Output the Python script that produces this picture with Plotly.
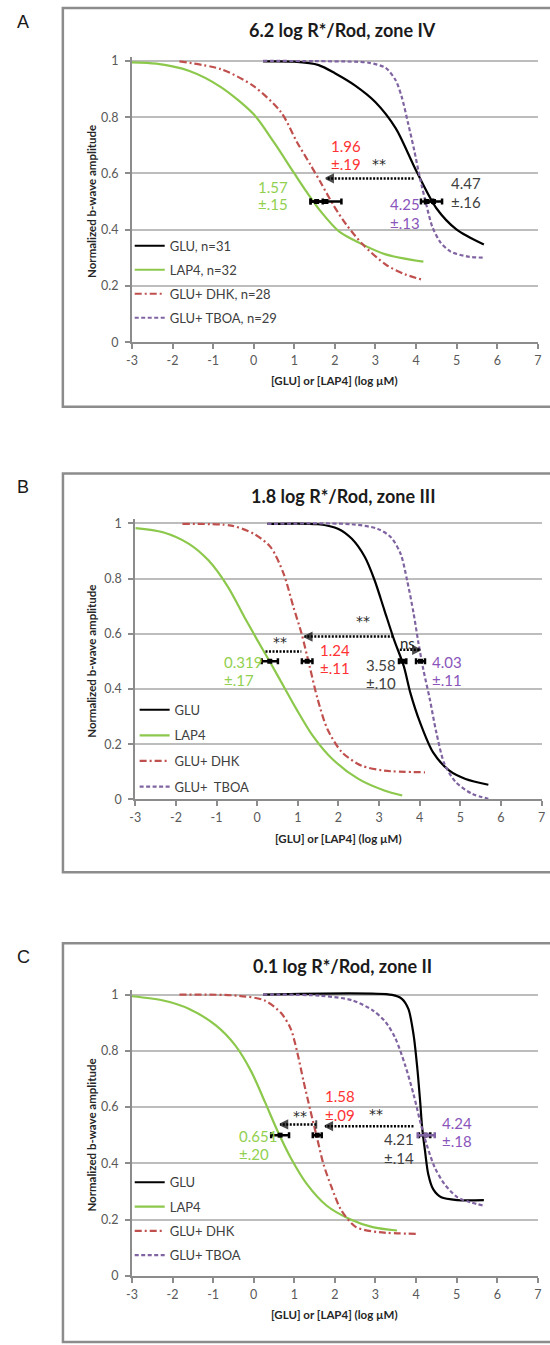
import plotly.graph_objects as go

W, H = 550, 1345
FONT = "Lato"

# ---------------- data ----------------
# Panel A: 6.2 log R*/Rod, zone IV
A_GLU_x = [0.23, 1.0, 1.6, 2.0, 2.5, 3.0, 3.5, 4.0, 4.5, 5.0, 5.67]
A_GLU_y = [0.998, 0.997, 0.985, 0.956, 0.912, 0.853, 0.76, 0.61, 0.476, 0.40, 0.347]
A_LAP4_x = [-3, -2.4, -1.6, -0.8, 0.0, 0.5, 1.0, 1.3, 1.65, 2.1, 2.6, 3.25, 4.18]
A_LAP4_y = [0.995, 0.99, 0.965, 0.906, 0.81, 0.71, 0.60, 0.535, 0.465, 0.394, 0.353, 0.312, 0.286]
A_DHK_x = [-1.83, -0.8, 0.0, 0.67, 1.07, 1.4, 1.64, 1.96, 2.28, 2.69, 3.25, 3.73, 4.18]
A_DHK_y = [0.998, 0.97, 0.91, 0.818, 0.71, 0.63, 0.57, 0.488, 0.418, 0.347, 0.276, 0.241, 0.221]
A_TBOA_x = [0.23, 1.5, 2.5, 2.85, 3.25, 3.5, 3.65, 3.8, 3.95, 4.1, 4.25, 4.4, 4.6, 4.85, 5.25, 5.67]
A_TBOA_y = [1.0, 0.999, 0.997, 0.993, 0.975, 0.93, 0.87, 0.78, 0.685, 0.58, 0.49, 0.41, 0.355, 0.322, 0.305, 0.30]
A_names = ["GLU, n=31", "LAP4, n=32", "GLU+ DHK, n=28", "GLU+ TBOA, n=29"]
A_ec_x = [1.55, 1.78, 4.27, 4.43]
A_ec_err = [0.15, 0.38, 0.15, 0.21]
A_ec_y = [0.5, 0.5, 0.5, 0.5]
A_arrow_x0 = [3.94]
A_arrow_x1 = [1.78]
A_arrow_y = [0.582]
A_lab_text = ["1.96", "±.19", "1.57", "±.15", "4.47", "±.16", "4.25", "±.13"]
A_lab_x = [1.86, 1.86, 0.065, 0.065, 4.82, 4.82, 3.315, 3.315]
A_lab_y = [0.698, 0.635, 0.553, 0.492, 0.567, 0.50, 0.49, 0.424]
A_sig_text = ["**"]
A_sig_x = [3.09]
A_sig_y = [0.635]

# Panel B: 1.8 log R*/Rod, zone III
B_GLU_x = [0.25, 1.5, 2.0, 2.33, 2.65, 2.89, 3.13, 3.37, 3.61, 3.77, 4.01, 4.33, 4.73, 5.13, 5.69]
B_GLU_y = [0.998, 0.997, 0.98, 0.944, 0.878, 0.794, 0.686, 0.578, 0.482, 0.386, 0.278, 0.17, 0.104, 0.074, 0.053]
B_LAP4_x = [-3, -2.32, -1.68, -1.2, -0.72, -0.32, 0.0, 0.33, 0.65, 0.97, 1.37, 1.85, 2.49, 3.13, 3.57]
B_LAP4_y = [0.983, 0.968, 0.926, 0.866, 0.77, 0.662, 0.578, 0.494, 0.41, 0.326, 0.23, 0.146, 0.074, 0.032, 0.014]
B_DHK_x = [-1.84, -0.64, -0.08, 0.33, 0.65, 0.89, 1.09, 1.29, 1.49, 1.73, 2.09, 2.57, 3.13, 4.13]
B_DHK_y = [0.998, 0.992, 0.962, 0.914, 0.818, 0.698, 0.602, 0.482, 0.362, 0.254, 0.17, 0.122, 0.104, 0.098]
B_TBOA_x = [0.25, 2.33, 2.97, 3.29, 3.53, 3.69, 3.85, 3.97, 4.09, 4.25, 4.41, 4.61, 4.89, 5.29, 5.69]
B_TBOA_y = [0.998, 0.997, 0.98, 0.95, 0.89, 0.794, 0.674, 0.566, 0.47, 0.362, 0.242, 0.128, 0.062, 0.02, 0.002]
B_names = ["GLU", "LAP4", "GLU+ DHK", "GLU+\u00a0 TBOA"]
B_ec_x = [0.31, 1.23, 3.58, 4.02]
B_ec_err = [0.20, 0.13, 0.09, 0.11]
B_ec_y = [0.5, 0.5, 0.5, 0.5]
B_arrow_x0 = [3.35, 0.205, 3.51]
B_arrow_x1 = [1.166, 1.087, 4.01]
B_arrow_y = [0.59, 0.536, 0.542]
B_lab_text = ["0.319", "±.17", "1.24", "±.11", "3.58", "±.10", "4.03", "±.11"]
B_lab_x = [-0.877, -0.877, 1.50, 1.50, 2.625, 2.625, 4.25, 4.25]
B_lab_y = [0.498, 0.434, 0.542, 0.476, 0.488, 0.422, 0.498, 0.434]
B_sig_text = ["**", "**", "ns"]
B_sig_x = [2.61, 0.566, 3.69]
B_sig_y = [0.645, 0.572, 0.566]

# Panel C: 0.1 log R*/Rod, zone II
C_GLU_x = [0.23, 3.41, 3.65, 3.81, 3.94, 4.03, 4.10, 4.15, 4.22, 4.30, 4.42, 4.62, 5.02, 5.67]
C_GLU_y = [1.0, 0.999, 0.985, 0.949, 0.855, 0.738, 0.62, 0.526, 0.444, 0.361, 0.308, 0.279, 0.269, 0.269]
C_LAP4_x = [-3, -2.23, -1.59, -0.94, -0.46, -0.06, 0.27, 0.59, 0.91, 1.31, 1.80, 2.36, 2.93, 3.53]
C_LAP4_y = [0.994, 0.979, 0.949, 0.891, 0.82, 0.726, 0.62, 0.514, 0.42, 0.326, 0.249, 0.202, 0.173, 0.161]
C_DHK_x = [-1.83, -0.38, 0.27, 0.67, 0.91, 1.07, 1.23, 1.40, 1.56, 1.72, 1.92, 2.16, 2.52, 3.09, 4.06]
C_DHK_y = [1.0, 0.996, 0.979, 0.935, 0.879, 0.796, 0.69, 0.585, 0.49, 0.396, 0.314, 0.232, 0.173, 0.155, 0.149]
C_TBOA_x = [0.23, 1.64, 2.44, 2.93, 3.25, 3.49, 3.73, 3.94, 4.10, 4.26, 4.46, 4.70, 5.02, 5.35, 5.67]
C_TBOA_y = [1.0, 0.996, 0.979, 0.944, 0.902, 0.844, 0.749, 0.644, 0.549, 0.467, 0.385, 0.326, 0.279, 0.261, 0.249]
C_names = ["GLU", "LAP4", "GLU+ DHK", "GLU+ TBOA"]
C_ec_x = [0.65, 1.565, 4.21, 4.25]
C_ec_err = [0.22, 0.11, 0.14, 0.21]
C_ec_y = [0.5, 0.5, 0.5, 0.5]
C_arrow_x0 = [1.54, 3.935]
C_arrow_x1 = [0.653, 1.758]
C_arrow_y = [0.538, 0.532]
C_lab_text = ["1.58", "±.09", "0.651", "±.20", "4.21", "±.14", "4.24", "±.18"]
C_lab_x = [1.718, 1.718, -0.419, -0.419, 3.17, 3.17, 4.58, 4.58]
C_lab_y = [0.638, 0.573, 0.496, 0.432, 0.485, 0.42, 0.544, 0.479]
C_sig_text = ["**", "**"]
C_sig_x = [1.15, 3.02]
C_sig_y = [0.568, 0.574]

titles = ["6.2 log R*/Rod, zone IV", "1.8 log R*/Rod, zone III", "0.1 log R*/Rod, zone II"]
panel_letters = ["A", "B", "C"]
x_ticks = [-3, -2, -1, 0, 1, 2, 3, 4, 5, 6, 7]
x_ticktext = ["-3", "-2", "-1", "0", "1", "2", "3", "4", "5", "6", "7"]
y_ticks = [0, 0.2, 0.4, 0.6, 0.8, 1]
y_ticktext = ["0", "0.2", "0.4", "0.6", "0.8", "1"]

# ---------------- styles ----------------
COL_BLACK = "#000000"
COL_GREEN = "#8CC84B"
COL_RED = "#C0504D"
COL_PURPLE = "#8064A2"
TXT_GREEN = "#92D050"
TXT_RED = "#FF3333"
TXT_PURPLE = "#8A55BA"
TXT_DARK = "#404040"
GRID = "#BDBDBD"
AXIS = "#8C8C8C"
DASH_RED = "7px,3px,2px,3px"
DASH_PURPLE = "4px,2.5px"
DASH_ARROW = "2px,1.5px"

def pxx(v):
    return v / W

def pxy(v):
    return 1 - v / H

YTOP = 1.015
# pixel geometry of each panel: (x of -3, x of 7, y of 0, y of 1)
geom = [
    (128.3, 541.7, 341.7, 58.3),
    (131.7, 545.5, 802.3, 524.3),
    (128.3, 541.7, 1282.3, 999.0),
]
boxes = [(57.9, 5.0, 406.7), (58.0, 474.0, 875.7), (58.0, 947.3, 1349.0)]
legend_pos = [(126.0, 229.5, 4.1), (131.0, 697.0, 5.7), (126.0, 1173.0, 4.4)]

panels = [
    dict(curves=[(A_names[0], A_GLU_x, A_GLU_y, COL_BLACK, "solid"),
                 (A_names[1], A_LAP4_x, A_LAP4_y, COL_GREEN, "solid"),
                 (A_names[2], A_DHK_x, A_DHK_y, COL_RED, DASH_RED),
                 (A_names[3], A_TBOA_x, A_TBOA_y, COL_PURPLE, DASH_PURPLE)],
         ec=(A_ec_x, A_ec_y, A_ec_err, [COL_BLACK] * 4),
         arrows=(A_arrow_x0, A_arrow_x1, A_arrow_y, [False]),
         labels=(A_lab_text, A_lab_x, A_lab_y,
                 [TXT_RED, TXT_RED, TXT_GREEN, TXT_GREEN, TXT_DARK, TXT_DARK, TXT_PURPLE, TXT_PURPLE]),
         sig=(A_sig_text, A_sig_x, A_sig_y)),
    dict(curves=[(B_names[0], B_GLU_x, B_GLU_y, COL_BLACK, "solid"),
                 (B_names[1], B_LAP4_x, B_LAP4_y, COL_GREEN, "solid"),
                 (B_names[2], B_DHK_x, B_DHK_y, COL_RED, DASH_RED),
                 (B_names[3], B_TBOA_x, B_TBOA_y, COL_PURPLE, DASH_PURPLE)],
         ec=(B_ec_x, B_ec_y, B_ec_err, [COL_BLACK] * 4),
         arrows=(B_arrow_x0, B_arrow_x1, B_arrow_y, [False, False, False]),
         labels=(B_lab_text, B_lab_x, B_lab_y,
                 [TXT_GREEN, TXT_GREEN, TXT_RED, TXT_RED, TXT_DARK, TXT_DARK, TXT_PURPLE, TXT_PURPLE]),
         sig=(B_sig_text, B_sig_x, B_sig_y)),
    dict(curves=[(C_names[0], C_GLU_x, C_GLU_y, COL_BLACK, "solid"),
                 (C_names[1], C_LAP4_x, C_LAP4_y, COL_GREEN, "solid"),
                 (C_names[2], C_DHK_x, C_DHK_y, COL_RED, DASH_RED),
                 (C_names[3], C_TBOA_x, C_TBOA_y, COL_PURPLE, DASH_PURPLE)],
         ec=(C_ec_x, C_ec_y, C_ec_err, [COL_BLACK, COL_BLACK, COL_BLACK, COL_PURPLE]),
         arrows=(C_arrow_x0, C_arrow_x1, C_arrow_y, [True, False]),
         labels=(C_lab_text, C_lab_x, C_lab_y,
                 [TXT_RED, TXT_RED, TXT_GREEN, TXT_GREEN, TXT_DARK, TXT_DARK, TXT_PURPLE, TXT_PURPLE]),
         sig=(C_sig_text, C_sig_x, C_sig_y)),
]

fig = go.Figure()
annotations = []
shapes = []
layout_axes = {}

for i, p in enumerate(panels):
    n = i + 1
    xa = "x" if n == 1 else f"x{n}"
    ya = "y" if n == 1 else f"y{n}"
    lg = "legend" if n == 1 else f"legend{n}"
    x_lo, x_hi, y0p, y1p = geom[i]
    ppu = y0p - y1p
    ytop_px = y1p - (YTOP - 1) * ppu

    layout_axes["xaxis" if n == 1 else f"xaxis{n}"] = dict(
        domain=[pxx(x_lo), pxx(x_hi)], range=[-3, 7], anchor=ya,
        tickvals=x_ticks, ticktext=x_ticktext, ticks="outside", ticklen=5, tickwidth=2,
        tickcolor=AXIS, showline=True, linecolor=AXIS, linewidth=2, showgrid=False,
        zeroline=False, tickfont=dict(family=FONT, size=12.5, color="#595959"),
        ticklabelstandoff=1, fixedrange=True)
    layout_axes["yaxis" if n == 1 else f"yaxis{n}"] = dict(
        domain=[pxy(y0p), pxy(ytop_px)], range=[0, YTOP], anchor=xa,
        tickvals=y_ticks, ticktext=y_ticktext, ticks="outside", ticklen=5, tickwidth=2,
        tickcolor=AXIS, showline=True, linecolor=AXIS, linewidth=2,
        showgrid=True, gridcolor=GRID, gridwidth=2, zeroline=False,
        tickfont=dict(family=FONT, size=12.5, color="#595959"), ticklabelstandoff=4,
        fixedrange=True)

    for name, xs, ys, col, dash in p["curves"]:
        fig.add_trace(go.Scatter(
            x=xs, y=ys, mode="lines", name=name, xaxis=xa, yaxis=ya,
            line=dict(color=col, width=2.2, dash=dash, shape="spline", smoothing=0.8),
            legend=lg, legendgroup=f"{lg}-{name}", hoverinfo="skip"))

    ex, ey, eerr, ecol = p["ec"]
    for k in range(len(ex)):
        fig.add_trace(go.Scatter(
            x=[ex[k]], y=[ey[k]], mode="markers", xaxis=xa, yaxis=ya, showlegend=False,
            marker=dict(symbol="square", size=5, color=ecol[k]),
            error_x=dict(type="data", array=[eerr[k]], color=ecol[k], thickness=2.5, width=3),
            hoverinfo="skip"))

    ax0, ax1, ay, start_tick = p["arrows"]
    for k in range(len(ax0)):
        head = "arrow-left" if ax1[k] < ax0[k] else "arrow-right"
        has_head = not (i == 1 and k == 1)
        fig.add_trace(go.Scatter(
            x=[ax0[k], ax1[k]], y=[ay[k], ay[k]], mode="lines+markers", xaxis=xa, yaxis=ya,
            showlegend=False, hoverinfo="skip",
            line=dict(color="black", width=2.5, dash=DASH_ARROW),
            marker=dict(symbol=["line-ns", head],
                        size=[6 if start_tick[k] else 0, 7 if has_head else 0],
                        color="black", line=dict(color="black", width=2))))

    lt, lx, lyy, lc = p["labels"]
    for k in range(len(lt)):
        annotations.append(dict(x=lx[k], y=lyy[k], xref=xa, yref=ya, text=lt[k],
                                showarrow=False, xanchor="left", yanchor="middle",
                                font=dict(family=FONT, size=15, color=lc[k])))
    st, sx, sy = p["sig"]
    for k in range(len(st)):
        star = st[k].startswith("*")
        annotations.append(dict(x=sx[k], y=sy[k], xref=xa, yref=ya, text=st[k],
                                showarrow=False, xanchor="center", yanchor="middle",
                                font=dict(family="DejaVu Sans" if star else FONT,
                                          size=14 if star else 15, color="#262626")))

    # frame, title, letter, axis titles
    bx, by0, by1 = boxes[i]
    shapes.append(dict(type="rect", xref="paper", yref="paper", x0=pxx(bx), x1=1.1,
                       y0=pxy(by1), y1=pxy(by0), line=dict(color="#8C8C8C", width=2.5)))
    annotations.append(dict(x=pxx(343), y=pxy(by0 + 22.5), xref="paper", yref="paper",
                            text=f"<b>{titles[i]}</b>", showarrow=False,
                            xanchor="center", yanchor="middle",
                            font=dict(family=FONT, size=18, color="#1A1A1A")))
    annotations.append(dict(x=pxx(17.5), y=pxy(by0 + 14), xref="paper", yref="paper",
                            text=panel_letters[i], showarrow=False,
                            xanchor="center", yanchor="middle",
                            font=dict(family="Liberation Sans", size=18, color="#1A1A1A")))
    annotations.append(dict(x=pxx(87), y=pxy((y0p + y1p) / 2), xref="paper", yref="paper",
                            text="<b>Normalized b-wave amplitude</b>", showarrow=False,
                            textangle=-90, xanchor="center", yanchor="middle",
                            font=dict(family=FONT, size=11.5, color="#262626")))
    annotations.append(dict(x=pxx((x_lo + x_hi) / 2), y=pxy(y0p + 39), xref="paper",
                            yref="paper", text="<b>[GLU] or [LAP4] (log µM)</b>",
                            showarrow=False, xanchor="center", yanchor="middle",
                            font=dict(family=FONT, size=11.5, color="#262626")))

    lxp, lyp, gap = legend_pos[i]
    layout_axes[lg] = dict(x=pxx(lxp), y=pxy(lyp), xanchor="left", yanchor="top",
                           bgcolor="rgba(0,0,0,0)", borderwidth=0, tracegroupgap=gap,
                           itemwidth=30, font=dict(family=FONT, size=13, color=TXT_DARK))

fig.update_layout(
    width=W, height=H, margin=dict(l=0, r=0, t=0, b=0),
    paper_bgcolor="white", plot_bgcolor="white",
    annotations=annotations, shapes=shapes, hovermode=False,
    **layout_axes)

fig.write_html("out.html", config={"displayModeBar": False},
               post_script="document.body.style.margin='0px';document.body.style.overflow='hidden';")
